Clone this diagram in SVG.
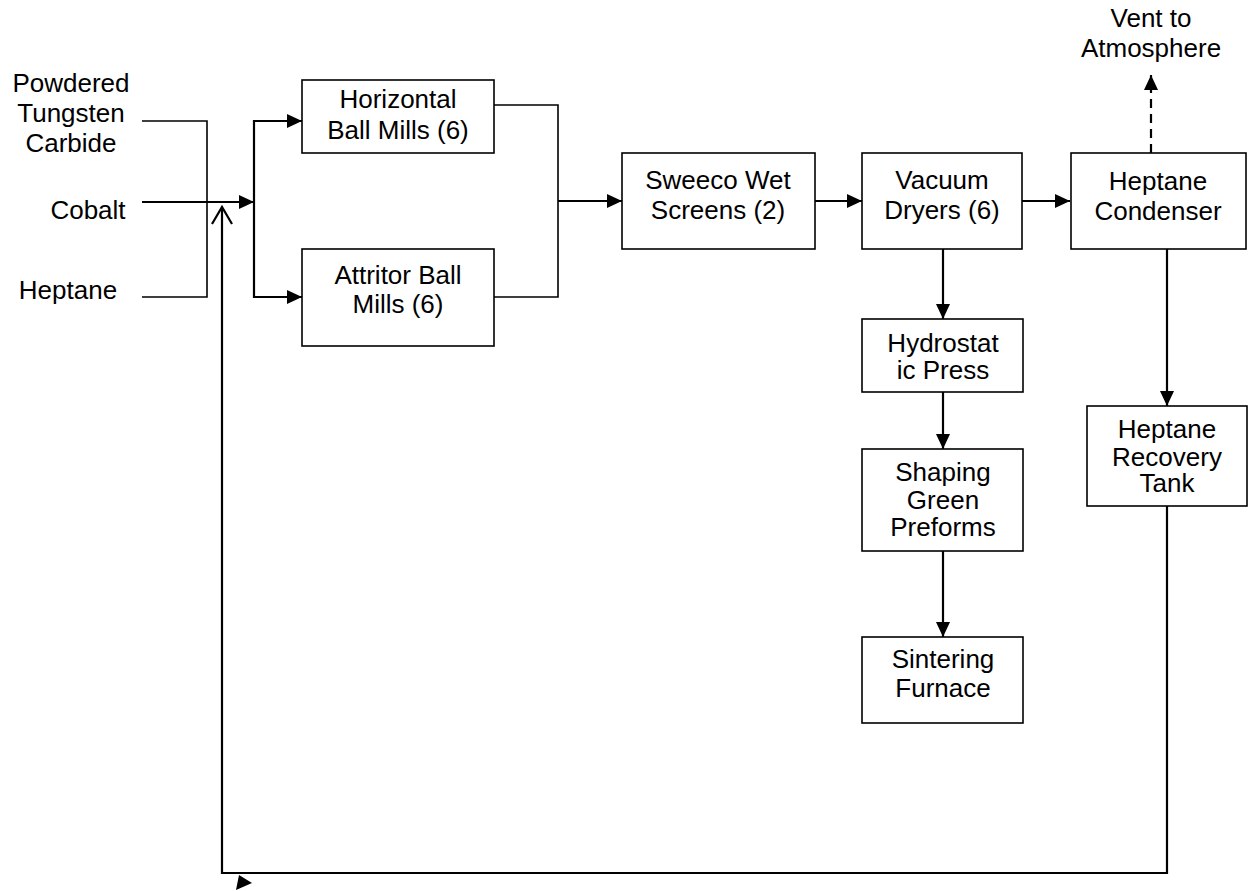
<svg xmlns="http://www.w3.org/2000/svg" width="1249" height="891" viewBox="0 0 1249 891">
<style>
.box{fill:#fff;stroke:#000;stroke-width:1.6}
.t{font-family:"Liberation Sans",Arial,sans-serif;font-size:26px;fill:#000;text-anchor:middle}
.ln{fill:none;stroke:#000;stroke-width:2.2}
.thin{fill:none;stroke:#000;stroke-width:1.6}
</style>
<defs>
<marker id="ah" viewBox="0 0 15 14" refX="15" refY="7" markerWidth="15" markerHeight="14" markerUnits="userSpaceOnUse" orient="auto">
<path d="M0,0 L15,7 L0,14 Z" fill="#000"/>
</marker>
</defs>
<rect width="1249" height="891" fill="#fff"/>

<g id="inputs">
<text class="t" x="71" y="92">Powdered</text>
<text class="t" x="71" y="122">Tungsten</text>
<text class="t" x="71" y="152">Carbide</text>
<text class="t" x="88" y="219">Cobalt</text>
<text class="t" x="68" y="299">Heptane</text>
</g>

<g id="vent">
<text class="t" x="1151" y="27">Vent to</text>
<text class="t" x="1151" y="57">Atmosphere</text>
</g>

<g id="connectors">
<polyline class="thin" points="142,121 207,121 207,297 142,297"/>
<line class="ln" x1="142" y1="202" x2="254" y2="202" marker-end="url(#ah)"/>
<line class="ln" x1="254" y1="120" x2="254" y2="298"/>
<line class="ln" x1="254" y1="121" x2="302" y2="121" marker-end="url(#ah)"/>
<line class="ln" x1="254" y1="297" x2="302" y2="297" marker-end="url(#ah)"/>
<polyline class="thin" points="494,105 558,105 558,297 494,297"/>
<line class="ln" x1="558" y1="201" x2="622" y2="201" marker-end="url(#ah)"/>
<line class="ln" x1="815" y1="201" x2="862" y2="201" marker-end="url(#ah)"/>
<line class="ln" x1="1022" y1="201" x2="1070" y2="201" marker-end="url(#ah)"/>
<line class="ln" x1="943" y1="249" x2="943" y2="319" marker-end="url(#ah)"/>
<line class="ln" x1="943" y1="392" x2="943" y2="449" marker-end="url(#ah)"/>
<line class="ln" x1="943" y1="551" x2="943" y2="637" marker-end="url(#ah)"/>
<line class="ln" x1="1167" y1="249" x2="1167" y2="406" marker-end="url(#ah)"/>
<line class="ln" x1="1151" y1="153" x2="1151" y2="75" stroke-dasharray="9,6" marker-end="url(#ah)"/>
<polyline class="ln" points="1167,506 1167,873 222,873 222,208"/>
<polyline class="ln" points="212,224 222,207 232,224"/>
<polygon points="239,875 252,883 236,890" fill="#000"/>
</g>

<g id="horizontal-ball-mills">
<rect class="box" x="302" y="80" width="192" height="73"/>
<text class="t" x="398" y="108">Horizontal</text>
<text class="t" x="398" y="139">Ball Mills (6)</text>
</g>

<g id="attritor-ball-mills">
<rect class="box" x="302" y="249" width="192" height="97"/>
<text class="t" x="398" y="284">Attritor Ball</text>
<text class="t" x="398" y="313">Mills (6)</text>
</g>

<g id="sweeco">
<rect class="box" x="622" y="153" width="193" height="96"/>
<text class="t" x="718" y="189">Sweeco Wet</text>
<text class="t" x="718" y="219">Screens (2)</text>
</g>

<g id="vacuum-dryers">
<rect class="box" x="862" y="153" width="160" height="96"/>
<text class="t" x="942" y="189">Vacuum</text>
<text class="t" x="942" y="219">Dryers (6)</text>
</g>

<g id="heptane-condenser">
<rect class="box" x="1071" y="153" width="175" height="96"/>
<text class="t" x="1158" y="190">Heptane</text>
<text class="t" x="1158" y="220">Condenser</text>
</g>

<g id="hydrostatic-press">
<rect class="box" x="862" y="319" width="161" height="73"/>
<text class="t" x="943" y="352">Hydrostat</text>
<text class="t" x="943" y="379">ic Press</text>
</g>

<g id="shaping">
<rect class="box" x="862" y="449" width="161" height="102"/>
<text class="t" x="943" y="481">Shaping</text>
<text class="t" x="943" y="509">Green</text>
<text class="t" x="943" y="536">Preforms</text>
</g>

<g id="sintering">
<rect class="box" x="862" y="637" width="161" height="86"/>
<text class="t" x="943" y="668">Sintering</text>
<text class="t" x="943" y="697">Furnace</text>
</g>

<g id="heptane-recovery">
<rect class="box" x="1087" y="406" width="160" height="100"/>
<text class="t" x="1167" y="438">Heptane</text>
<text class="t" x="1167" y="466">Recovery</text>
<text class="t" x="1167" y="492">Tank</text>
</g>
</svg>
